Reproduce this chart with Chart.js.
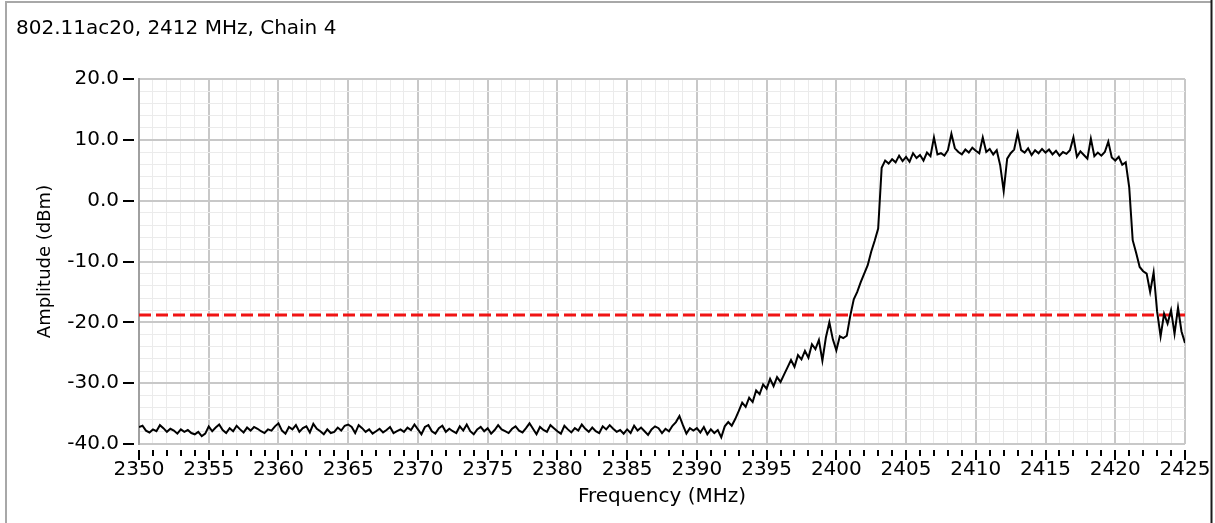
<!DOCTYPE html>
<html>
<head>
<meta charset="utf-8">
<title>802.11ac20, 2412 MHz, Chain 4</title>
<script src="https://cdn.jsdelivr.net/npm/chart.js@4.4.1/dist/chart.umd.min.js"></script>
<style>
    html, body { margin: 0; padding: 0; background: #fff; }
    #marco { position: relative; width: 1215px; height: 523px; }
</style>
</head>
<body>
<div id="marco"><canvas id="graficoEspectro" width="1215" height="523"></canvas></div>
<script>
const titulo = '802.11ac20, 2412 MHz, Chain 4';
const frecuenciaInicial = 2350; // MHz
const pasoFrecuencia = 0.25;    // MHz entre muestras

const ampPiso = [
    -37.2,-37.0,-37.8,-38.1,-37.6,-37.9,-36.9,-37.4,-38.0,-37.5,-37.8,-38.3,-37.6,-38.0,-37.7,-38.2,-38.4,-38.0,-38.7,-38.3,
    -37.1,-37.9,-37.3,-36.8,-37.7,-38.2,-37.4,-37.9,-37.0,-37.6,-38.1,-37.3,-37.8,-37.2,-37.5,-37.9,-38.2,-37.6,-37.8,-37.1,
    -36.6,-37.8,-38.3,-37.2,-37.6,-36.9,-38.0,-37.4,-37.1,-38.1,-36.7,-37.5,-37.9,-38.4,-37.6,-38.2,-38.0,-37.3,-37.8,-37.0,
    -36.8,-37.2,-38.2,-36.9,-37.4,-38.0,-37.6,-38.3,-37.9,-37.5,-38.1,-37.7,-37.2,-38.2,-37.9,-37.6,-38.0,-37.3,-37.7,-36.8,
    -37.6,-38.4,-37.2,-36.9,-37.9,-38.3,-37.4,-37.0,-38.0,-37.5,-37.9,-38.2,-37.1,-37.8,-36.8,-37.9,-38.4,-37.6,-37.2,-37.9,
    -37.4,-38.3,-37.7,-36.9,-37.6,-37.9,-38.2,-37.5,-37.1,-37.8,-38.1,-37.4,-36.6,-37.5,-38.4,-37.2,-37.7,-38.0,-36.9,-37.4,
    -37.9,-38.3,-37.0,-37.6,-38.1,-37.4,-37.8,-36.8,-37.5,-38.0,-37.3,-37.9,-38.2,-37.1,-37.6,-36.9,-37.5,-38.0,-37.7,-38.3,
    -37.6,-38.2,-37.0,-37.8,-37.3,-37.9,-38.5,-37.6,-37.1,-37.4,-38.2,-37.5,-37.9,-37.0,-36.4,-35.4,-36.9,-38.3,-37.4,-37.8
];
const ampSubida = [
    -37.4,-38.1,-37.2,-38.4,-37.6,-38.2,-37.7,-38.9,-37.1,-36.4,-37.0,-35.9,-34.6,-33.2,-33.9,-32.4,-33.1,-31.2,-31.8,-30.2,
    -30.9,-29.3,-30.5,-29.0,-29.8,-28.6,-27.4,-26.2,-27.3,-25.4,-26.1,-24.7,-25.8,-23.6,-24.4,-22.9,-26.3,-22.5,-20.0,-22.8,
    -24.6,-22.3,-22.6,-22.2,-18.9,-16.2,-15.0,-13.4,-12.0,-10.6,-8.4,-6.6,-4.6,5.4,6.6,6.1,6.8,6.3,7.4,6.5
];
const ampCanal = [
    7.2,6.4,7.8,7.0,7.5,6.6,7.9,7.3,10.4,7.6,7.8,7.4,8.3,11.0,8.6,8.0,7.6,8.4,7.9,8.7,
    8.2,7.8,10.4,8.0,8.5,7.6,8.3,5.8,1.6,6.9,7.8,8.4,11.1,8.3,7.9,8.6,7.5,8.3,7.8,8.5,
    7.9,8.4,7.6,8.2,7.4,8.0,7.7,8.3,10.4,7.2,8.1,7.5,6.9,10.2,7.3,7.9,7.4,8.0,9.7,7.1
];
const ampCaida = [
    6.6,7.2,5.9,6.3,2.2,-6.5,-8.6,-10.9,-11.6,-12.0,-15.0,-11.8,-18.2,-22.3,-18.6,-20.2,-18.0,-21.9,-17.6,-21.5,-23.4
];

const umbral = -18.8; // linea roja discontinua
const etiquetasX = [2350, 2355, 2360, 2365, 2370, 2375, 2380, 2385, 2390, 2395, 2400, 2405, 2410, 2415, 2420, 2425];
const etiquetasY = [-40, -30, -20, -10, 0, 10, 20];

const amplitudes = [...ampPiso, ...ampSubida, ...ampCanal, ...ampCaida];
const frecuencias = amplitudes.map((_, i) => frecuenciaInicial + i * pasoFrecuencia);

const fuente = 'DejaVu Sans';

// marco de la ventana y marcas de los ejes (separadas del area)
const marcasEjes = {
    id: 'marcasEjes',
    beforeDraw(chart) {
        const ctx = chart.ctx;
        ctx.save();
        ctx.lineWidth = 2;
        ctx.strokeStyle = '#a8a8a8';
        ctx.beginPath();
        ctx.moveTo(6, 523);
        ctx.lineTo(6, 2);
        ctx.lineTo(1211, 2);
        ctx.stroke();
        ctx.strokeStyle = '#1a1a1a';
        ctx.beginPath();
        ctx.moveTo(1211.5, 0);
        ctx.lineTo(1211.5, 523);
        ctx.stroke();
        ctx.restore();
    },
    afterDraw(chart) {
        const { ctx, chartArea, scales } = chart;
        ctx.save();
        ctx.strokeStyle = '#000';
        ctx.lineWidth = 2;
        ctx.beginPath();
        scales.x.ticks.forEach(t => {
            const px = Math.round(scales.x.getPixelForValue(t.value));
            const largo = etiquetasX.includes(t.value) ? 10 : 6;
            ctx.moveTo(px, chartArea.bottom + 6);
            ctx.lineTo(px, chartArea.bottom + 6 + largo);
        });
        etiquetasY.forEach(v => {
            const py = Math.round(scales.y.getPixelForValue(v));
            ctx.moveTo(chartArea.left - 16, py);
            ctx.lineTo(chartArea.left - 5, py);
        });
        ctx.stroke();
        ctx.restore();
    }
};

const ctx = document.getElementById('graficoEspectro').getContext('2d');

new Chart(ctx, {
    type: 'line',
    data: {
        datasets: [{
            label: 'Espectro',
            data: frecuencias.map((f, i) => ({ x: f, y: amplitudes[i] })),
            borderColor: '#000',
            borderWidth: 2,
            pointRadius: 0,
            tension: 0,
            order: 0
        }, {
            label: 'Limite',
            data: [{ x: etiquetasX[0], y: umbral }, { x: etiquetasX[etiquetasX.length - 1], y: umbral }],
            borderColor: '#f01414',
            borderWidth: 3,
            borderDash: [12, 5],
            pointRadius: 0,
            order: 1
        }]
    },
    options: {
        responsive: false,
        animation: false,
        layout: { padding: { left: 16, right: 30, top: 0, bottom: 0 } },
        plugins: {
            legend: { display: false },
            tooltip: { enabled: false },
            title: {
                display: true,
                text: titulo,
                align: 'start',
                color: '#000',
                font: { family: fuente, size: 20, weight: 'normal' },
                padding: { top: 17, bottom: 38 }
            }
        },
        scales: {
            x: {
                type: 'linear',
                min: etiquetasX[0],
                max: etiquetasX[etiquetasX.length - 1],
                afterFit: s => {
                    s.height = 79;
                    s.paddingLeft = 0;
                    s.paddingRight = 0;
                },
                ticks: {
                    stepSize: 1,
                    autoSkip: false,
                    maxRotation: 0,
                    padding: 14,
                    color: '#000',
                    font: { family: fuente, size: 20 },
                    callback: v => etiquetasX.includes(v) ? String(v) : ''
                },
                grid: {
                    drawTicks: false,
                    color: c => etiquetasX.includes(c.tick.value) ? '#c8c8c8' : '#ebebeb',
                    lineWidth: c => etiquetasX.includes(c.tick.value) ? 2 : 1
                },
                border: { display: false },
                title: {
                    display: true,
                    text: 'Frequency (MHz)',
                    color: '#000',
                    font: { family: fuente, size: 20 },
                    padding: { top: 0, bottom: 14 }
                }
            },
            y: {
                min: etiquetasY[0],
                max: etiquetasY[etiquetasY.length - 1],
                afterFit: s => { s.width = 123; },
                ticks: {
                    stepSize: 2,
                    autoSkip: false,
                    padding: 20,
                    color: '#000',
                    font: { family: fuente, size: 20 },
                    callback: v => etiquetasY.includes(v) ? v.toFixed(1) : ''
                },
                grid: {
                    drawTicks: false,
                    color: c => etiquetasY.includes(c.tick.value) ? '#c8c8c8' : '#ebebeb',
                    lineWidth: c => etiquetasY.includes(c.tick.value) ? 2 : 1
                },
                border: { color: '#a0a0a0', width: 2 },
                title: {
                    display: true,
                    text: 'Amplitude (dBm)',
                    color: '#000',
                    font: { family: fuente, size: 18 },
                    padding: { top: 19, bottom: 0 }
                }
            }
        }
    },
    plugins: [marcasEjes]
});
</script>
</body>
</html>
